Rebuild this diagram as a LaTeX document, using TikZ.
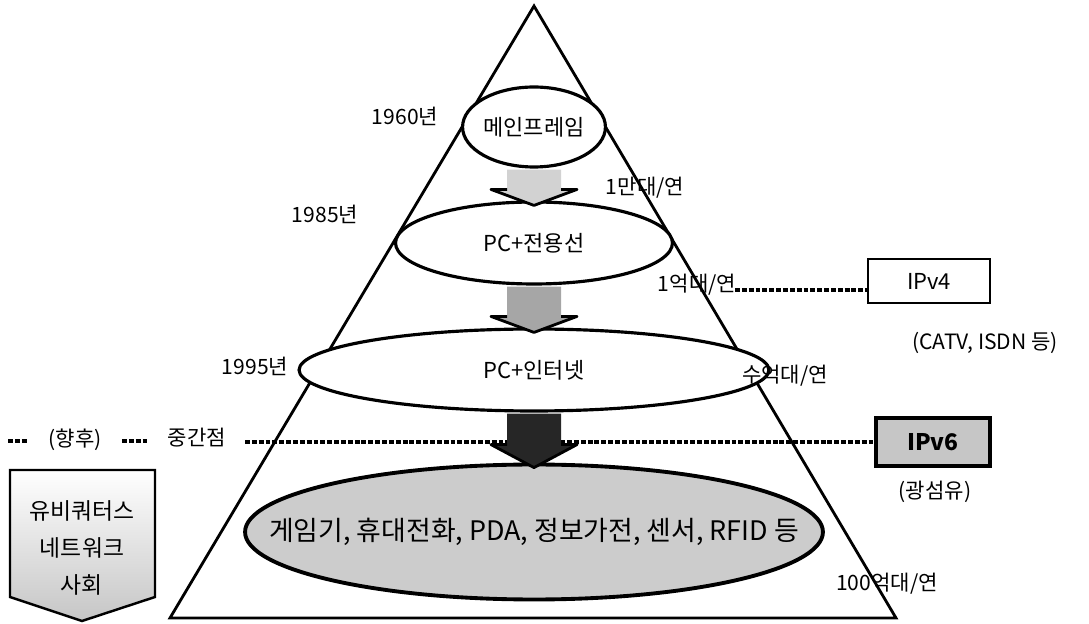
\documentclass[tikz,border=0pt]{standalone}
\usepackage{fontspec}
\setmainfont{Noto Sans CJK KR}
\usetikzlibrary{shapes.geometric,calc}
\tikzset{
  lbl/.style={font=\fontsize{12}{14}\selectfont, inner sep=0pt},
  ell/.style={ellipse, draw, line width=1.8pt, fill=white, inner sep=0pt, font=\fontsize{12.5}{14}\selectfont},
  dotline/.style={line width=2pt, dash pattern=on 2.8pt off 1.1pt},
  headline/.style={line width=1.6pt, line join=round},
}
\newcommand{\fatarrow}[4]{% from node, to node, fill, head depth
  \path (#1.south) coordinate (fa-s) (#2.north) coordinate (fa-t);
  \fill[#3] ($(fa-s)+(-27,1)$) -- ($(fa-s)+(27,1)$) -- ($(fa-t)+(27,-#4)$) -- ($(fa-t)+(43,-#4)$)
     -- ($(fa-t)+(0,5)$) -- ($(fa-t)+(-43,-#4)$) -- ($(fa-t)+(-27,-#4)$) -- cycle;
  \draw[headline] ($(fa-t)+(-27,-#4)$) -- ($(fa-t)+(-43,-#4)$) -- ($(fa-t)+(0,5)$)
     -- ($(fa-t)+(43,-#4)$) -- ($(fa-t)+(27,-#4)$);
}
\begin{document}
\begin{tikzpicture}[x=0.02cm, y=-0.02cm]
\useasboundingbox (0,0) rectangle (1089,624);
% pyramid
\draw[line width=1.6pt, line join=miter] (534,6) coordinate (apex) -- (896,618) coordinate (br) -- (170,618) coordinate (bl) -- cycle;
% ellipses
\node[ell, minimum width=2.68cm, minimum height=1.6cm] (e1) at (534,127) {메인프레임};
\node[ell, minimum width=5.54cm, minimum height=1.64cm] (e2) at (534,243) {PC+전용선};
\node[ell, minimum width=9.4cm, minimum height=1.64cm] (e3) at (534,370) {PC+인터넷};
% boxes and dotted lines
\node[draw, line width=1.1pt, minimum width=2.44cm, minimum height=0.88cm, inner sep=0pt, font=\fontsize{12.5}{14}\selectfont] (ipv4) at (929,281) {IPv4};
\node[draw, line width=1.8pt, fill=gray!45, minimum width=2.28cm, minimum height=0.96cm, inner sep=0pt, font=\fontsize{13}{14}\selectfont\bfseries] (ipv6) at (933,442) {IPv6};
\coordinate (d4) at (735,290);
\coordinate (d6) at (245,442);
\draw[dotline] (d4) -- (d4 -| ipv4.west);
\draw[dotline] (d6) -- (ipv6.west);
\coordinate (da1) at (8,441); \coordinate (da2) at (27,441);
\coordinate (db1) at (122,441); \coordinate (db2) at (147,441);
\draw[dotline] (da1) -- (da2);
\draw[dotline] (db1) -- (db2);
\node[lbl] (hyang) at (75,440) {(향후)};
\node[lbl] (jung) at (197,438) {중간점};
% big ellipse
\node[ellipse, draw, line width=2.2pt, fill=gray!40, minimum width=11.56cm, minimum height=2.7cm, inner sep=0pt] (e4) at (534,532) {};
\node[lbl, font=\fontsize{15.3}{17}\selectfont] (e4t) at (e4.center) {게임기, 휴대전화, PDA, 정보가전, 센서, RFID 등};
% arrows
\fatarrow{e1}{e2}{gray!35}{11}
\fatarrow{e2}{e3}{gray!70}{11}
\fatarrow{e3}{e4}{black!85}{18}
% labels
\node[lbl] (y60) at (405,116) {1960년};
\node[lbl] (r1) at (645,188) {1만대/연};
\node[lbl] (y85) at (325,214) {1985년};
\node[lbl] (r2) at (697,285) {1억대/연};
\node[lbl] (y95) at (255,366) {1995년};
\node[lbl] (r3) at (785,376) {수억대/연};
\node[lbl] (r4) at (887,584) {100억대/연};
\node[lbl] (catv) at (985,343) {(CATV, ISDN 등)};
\node[lbl] (fiber) at (935,492) {(광섬유)};
% ubiquitous arrow box
\shade[top color=white, bottom color=gray!45] (10,470) -- (155,470) -- (155,597) -- (82,621) -- (10,597) -- cycle;
\draw[line width=1.4pt, line join=miter] (10,470) coordinate (u1) -- (155,470) -- (155,597) -- (82,621) -- (10,597) -- cycle;
\node[lbl, font=\fontsize{13}{14}\selectfont, align=center] (ubi) at (82,548) {유비쿼터스\\[7pt]네트워크\\[7pt]사회};
\end{tikzpicture}
\end{document}
